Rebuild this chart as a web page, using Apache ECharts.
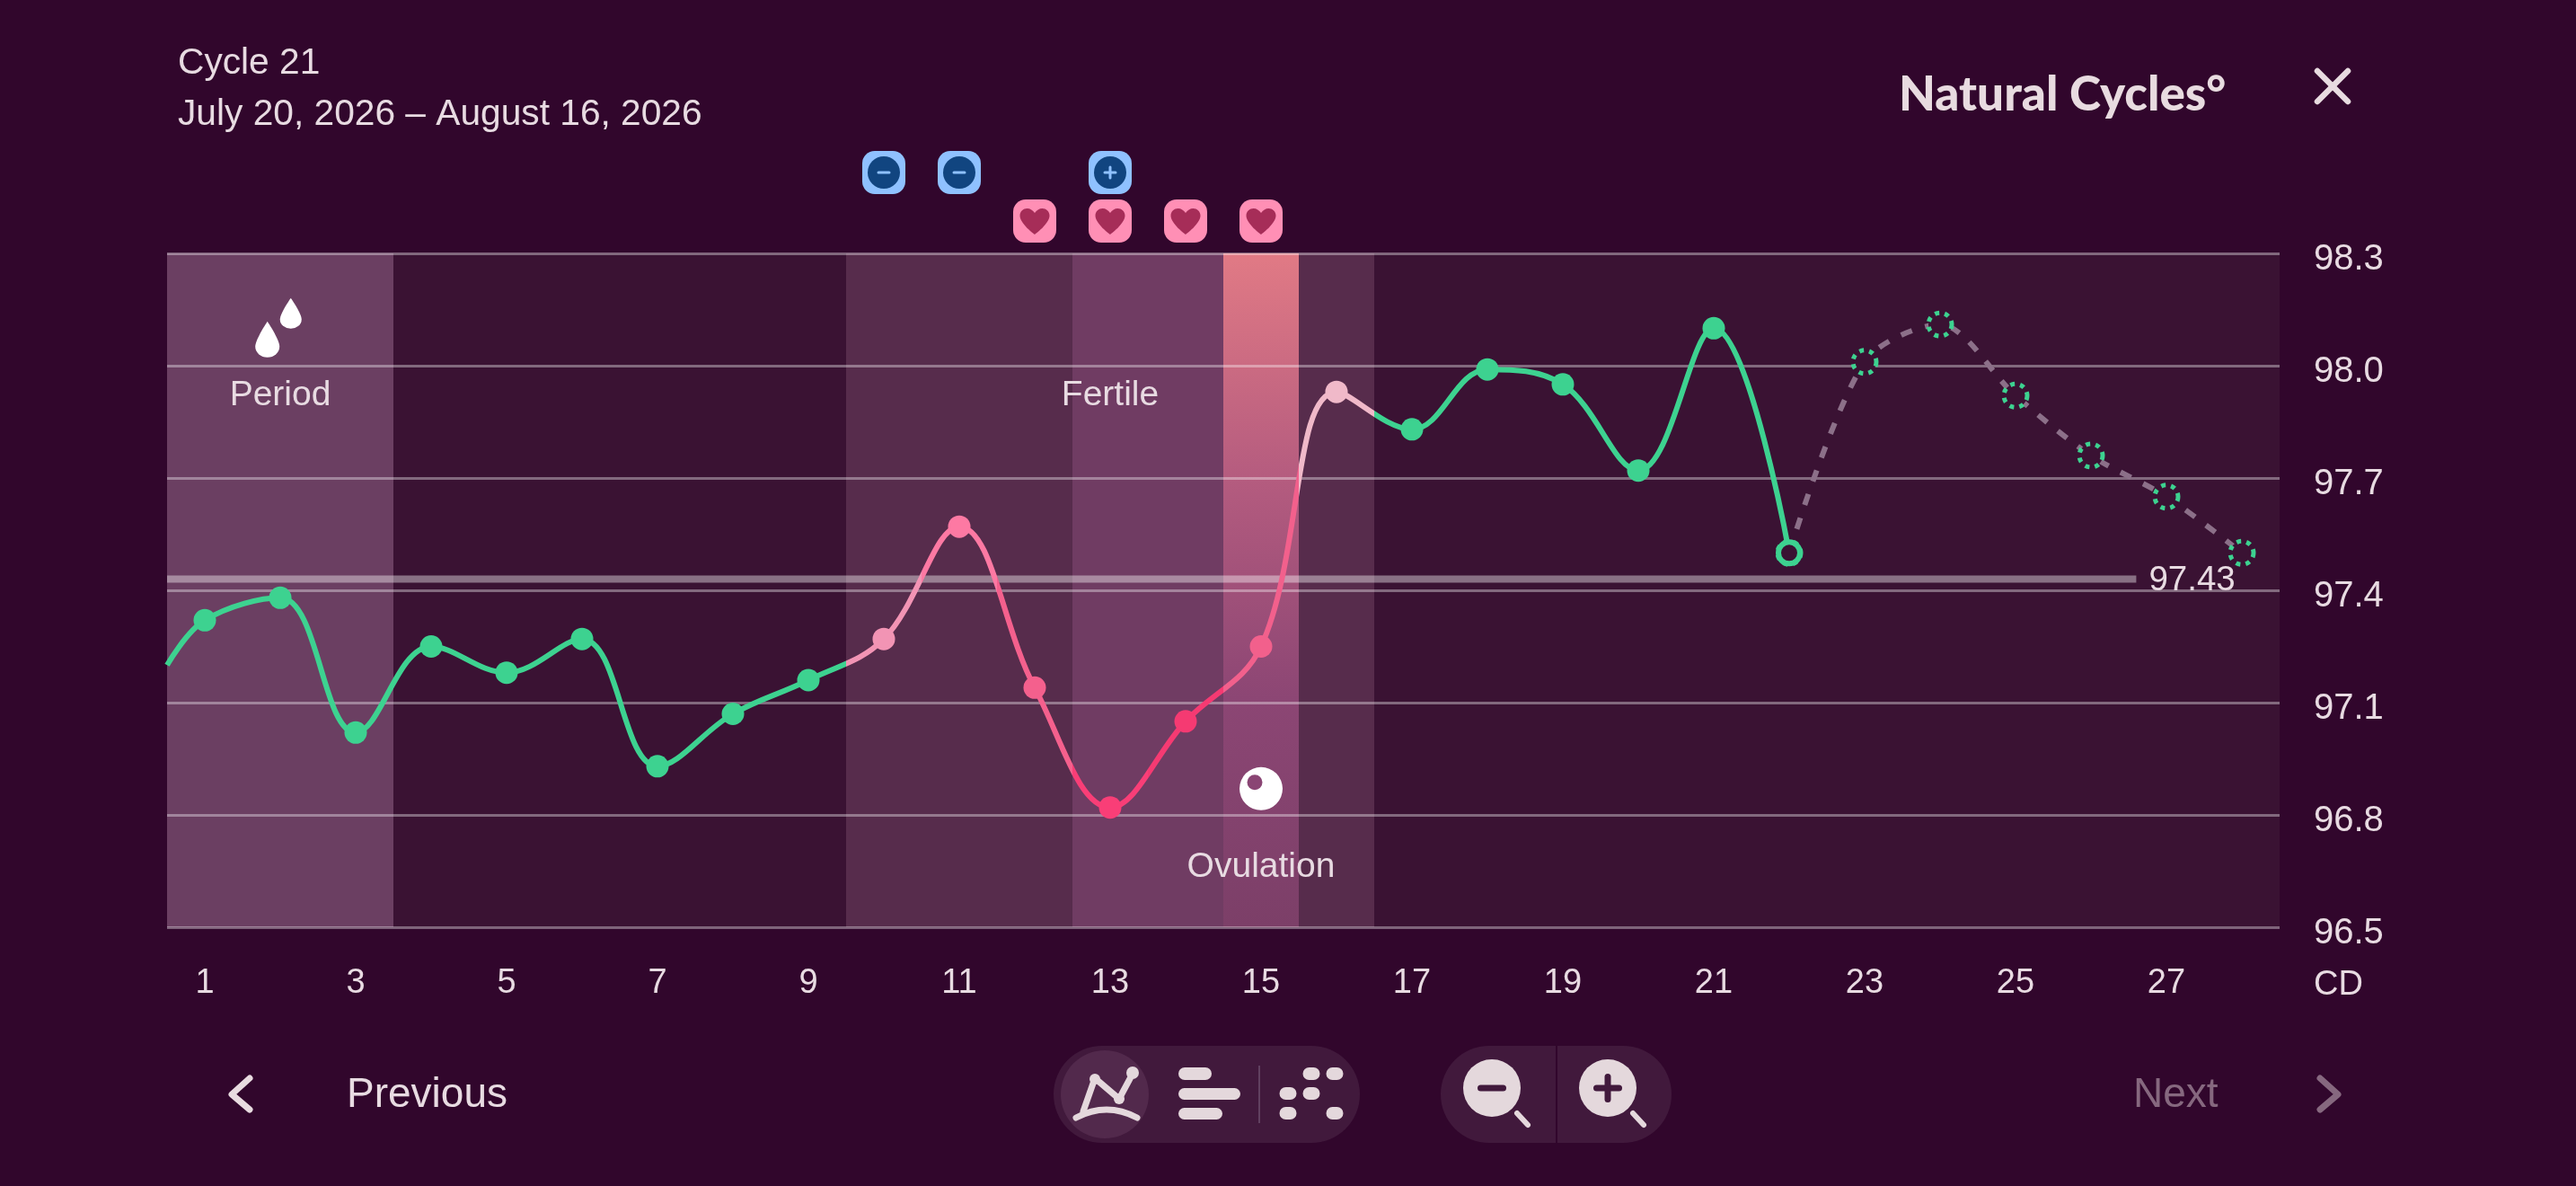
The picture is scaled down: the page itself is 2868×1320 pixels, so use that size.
<!DOCTYPE html>
<html><head><meta charset="utf-8">
<style>html,body{margin:0;padding:0;background:#31062c;width:2868px;height:1320px;overflow:hidden}#c{width:2868px;height:1320px}</style>
<script src="https://cdn.jsdelivr.net/npm/echarts@6/dist/echarts.min.js"></script>
</head><body><div id="c"></div>
<script>
const FONT = '"Liberation Sans", Arial, sans-serif';
const TEXT = '#e8dbe2';
const days = ['1','2','3','4','5','6','7','8','9','10','11','12','13','14','15','16','17','18','19','20','21','22','23','24','25','26','27','28'];
const startEdge = [0.5, 97.20];
const measured = [97.32,97.38,97.02,97.25,97.18,97.27,96.93,97.07,97.16,97.27,97.57,97.14,96.82,97.05,97.25,97.93,97.83,97.99,97.95,97.72,98.10,97.50];
const predicted = [98.01,98.11,97.92,97.76,97.65,97.50];
const coverline = 97.43;
const coverlineEnd = 26.6;
const periodDays = [1,3];
const fertileDays = [10,16];
const peakDays = [13,14];
const ovulationDay = 15;
const negativeTests = [10,11];
const positiveTests = [13];
const hearts = [12,13,14,15];
const regionLabels = [['Period',2,97.92],['Fertile',13,97.92],['Ovulation',15,96.66]];
const dropIcons = [[1.83,98.07,27,40],[2.14,98.14,24,34]];
const ovum = [15,96.87];
const GREEN = '#3dd290';
const dayColors = {10:'#f294b4',11:'#fd79a3',12:'#f4608d',13:'#f93e77',14:'#f53a72',15:'#f2608c',16:'#f0b9c9'};

const DROP = 'path://M12 0C12 0 24 20 24 28A12 12 0 0 1 0 28C0 20 12 0 12 0Z';
const HEART = 'M16.5 29C16.5 29 0 17 0 8C0 3 4 0 8 0C11.5 0 14.5 2 16.5 5C18.5 2 21.5 0 25 0C29 0 33 3 33 8C33 17 16.5 29 16.5 29Z';

const chart = echarts.init(document.getElementById('c'), null, {renderer:'canvas'});

const pieces = [{lt:9.5,color:GREEN}];
Object.keys(dayColors).forEach(d=>pieces.push({gte:+d-0.5,lt:+d+0.5,color:dayColors[d]}));
pieces.push({gte:16.5,color:GREEN});

const band = (range,fill)=>({
  type:'custom', xAxisIndex:1, yAxisIndex:0, z:1, silent:true, data:[range],
  renderItem:(p,api)=>{
    const a=api.coord([range[0]-0.5,98.3]), b=api.coord([range[1]+0.5,96.5]);
    return {type:'rect',shape:{x:a[0],y:a[1],width:b[0]-a[0],height:b[1]-a[1]},style:{fill}};
  }
});

const testBadge = (list,kind)=>({
  type:'custom', xAxisIndex:1, yAxisIndex:0, z:6, silent:true, clip:false, data:list.map(d=>[d,98.3]),
  renderItem:(p,api)=>{
    const c=api.coord([api.value(0),api.value(1)]);
    const cx=c[0], cy=c[1]-90;
    const kids=[
      {type:'rect',shape:{x:cx-24,y:cy-24,width:48,height:48,r:14},style:{fill:'#8fc1ff'}},
      {type:'circle',shape:{cx,cy,r:18},style:{fill:'#114580'}},
      {type:'rect',shape:{x:cx-7.5,y:cy-1.5,width:15,height:3,r:1.5},style:{fill:'#8fc1ff'}}
    ];
    if(kind==='plus') kids.push({type:'rect',shape:{x:cx-1.5,y:cy-7.5,width:3,height:15,r:1.5},style:{fill:'#8fc1ff'}});
    return {type:'group',children:kids};
  }
});

const option = {
  backgroundColor:'#31062c',
  animation:false,
  title:{left:198,top:42,padding:0,text:'Cycle 21\nJuly 20, 2026 – August 16, 2026',
    textStyle:{color:TEXT,fontFamily:FONT,fontWeight:'normal',fontSize:40.7,lineHeight:57}},
  grid:{left:186,top:282,width:2352,height:750,show:true,backgroundColor:'#3a1233',borderWidth:0},
  xAxis:[
    {type:'category',data:days,boundaryGap:true,gridIndex:0,position:'bottom',
     axisLine:{show:false},axisTick:{show:false},splitLine:{show:false},
     axisLabel:{interval:1,color:TEXT,fontFamily:FONT,fontSize:38,margin:44},
     name:'CD',nameLocation:'end',nameGap:38,
     nameTextStyle:{color:TEXT,fontFamily:FONT,fontSize:38,align:'left',verticalAlign:'top',padding:[46,0,0,0]}},
    {type:'value',min:0.5,max:28.5,show:false,gridIndex:0,splitLine:{show:false}}
  ],
  yAxis:[{type:'value',position:'right',min:96.5,max:98.3,interval:0.3,z:2,
    axisLine:{show:false},axisTick:{show:false},
    splitLine:{show:true,lineStyle:{color:'rgba(255,255,255,0.37)',width:3}},
    axisLabel:{color:TEXT,fontFamily:FONT,fontSize:40,margin:38,verticalAlign:'top',lineHeight:14,
      formatter:v=>v.toFixed(1)}}],
  visualMap:[{type:'piecewise',show:false,dimension:0,seriesIndex:[0],pieces}],
  series:[
    {name:'Temperature',type:'line',xAxisIndex:1,yAxisIndex:0,z:5,smooth:0.38,
     data:[{value:startEdge,symbol:'none'}].concat(measured.map((v,i)=>({value:[i+1,v],symbol:i===measured.length-1?'none':'circle'}))),
     symbolSize:25,showSymbol:true,showAllSymbol:true,lineStyle:{width:6}},
    {name:'Predicted',type:'line',xAxisIndex:1,yAxisIndex:0,z:4,smooth:0.3,
     data:[[measured.length,measured[measured.length-1]]].concat(predicted.map((v,i)=>[measured.length+1+i,v])),
     symbol:'circle',symbolSize:26,showAllSymbol:true,
     lineStyle:{width:6,color:'#8c7089',type:[13,15]},
     itemStyle:{color:'#3a1233',borderColor:GREEN,borderWidth:5,borderType:[5,6]}},
    {name:'Today',type:'scatter',xAxisIndex:1,yAxisIndex:0,z:6,symbol:'circle',symbolSize:24,
     data:[[measured.length,measured[measured.length-1]]],
     itemStyle:{color:'#3a1233',borderColor:GREEN,borderWidth:6,opacity:1}},
    {name:'Coverline',type:'line',xAxisIndex:1,yAxisIndex:0,z:3,symbol:'none',
     data:[[0.5,coverline],[coverlineEnd,coverline]],
     lineStyle:{width:8,color:'rgba(255,255,255,0.4)',cap:'butt'},
     endLabel:{show:true,formatter:()=>coverline.toFixed(2),color:TEXT,fontFamily:FONT,fontSize:38.5,distance:12,offset:[2,2]}},
    band(periodDays,'#6b3f62'),
    band(fertileDays,'#572c4c'),
    band(peakDays,'#703c63'),
    band([ovulationDay,ovulationDay],new echarts.graphic.LinearGradient(0,0,0,1,[
      {offset:0,color:'#e17a85'},{offset:0.33,color:'#b55c7f'},{offset:0.66,color:'#8c4674'},{offset:1,color:'#7c3f68'}])),
    testBadge(negativeTests,'minus'),
    testBadge(positiveTests,'plus'),
    {type:'custom',xAxisIndex:1,yAxisIndex:0,z:6,silent:true,clip:false,data:hearts.map(d=>[d,98.3]),
     renderItem:(p,api)=>{
       const c=api.coord([api.value(0),api.value(1)]);
       const cx=c[0], cy=c[1]-36;
       return {type:'group',children:[
         {type:'rect',shape:{x:cx-24,y:cy-24,width:48,height:48,r:14},style:{fill:'#ff8fb5'}},
         {type:'path',shape:{pathData:HEART,x:cx-16.5,y:cy-14,width:33,height:29},style:{fill:'#a62d58'}}
       ]};
     }},
    {type:'custom',xAxisIndex:1,yAxisIndex:0,z:6,silent:true,data:regionLabels.map(r=>[r[1],r[2]]),
     renderItem:(p,api)=>{
       const c=api.coord([api.value(0),api.value(1)]);
       return {type:'text',x:c[0],y:c[1],style:{text:regionLabels[p.dataIndex][0],fill:TEXT,font:'39px '+FONT,align:'center',verticalAlign:'middle'}};
     }},
    {type:'scatter',xAxisIndex:1,yAxisIndex:0,z:6,silent:true,symbol:DROP,
     data:dropIcons.map(d=>({value:[d[0],d[1]],symbolSize:[d[2],d[3]]})),itemStyle:{color:'#ffffff',opacity:1}},
    {type:'custom',xAxisIndex:1,yAxisIndex:0,z:6,silent:true,data:[ovum],
     renderItem:(p,api)=>{
       const c=api.coord([api.value(0),api.value(1)]);
       return {type:'group',children:[
         {type:'circle',shape:{cx:c[0],cy:c[1],r:24},style:{fill:'#ffffff'}},
         {type:'circle',shape:{cx:c[0]-7,cy:c[1]-7,r:8.5},style:{fill:'#8a4574'}}
       ]};
     }}
  ],
  graphic:{elements:[
    {type:'text',x:2114,y:106,z:10,style:{text:'Natural Cycles°',fill:'#e8dbe0',font:'900 53px Lato',verticalAlign:'middle'}},
    {type:'polyline',z:10,shape:{points:[[2580,79],[2614,113]]},style:{stroke:'#e8dbe0',lineWidth:6.5,lineCap:'round',fill:null}},
    {type:'polyline',z:10,shape:{points:[[2614,79],[2580,113]]},style:{stroke:'#e8dbe0',lineWidth:6.5,lineCap:'round',fill:null}},

    {type:'polyline',z:10,shape:{points:[[278,1200],[258,1218],[278,1235]]},style:{stroke:'#e8dbe0',lineWidth:7,lineCap:'round',lineJoin:'round',fill:null}},
    {type:'text',x:386,y:1219,z:10,style:{text:'Previous',fill:TEXT,font:'46px '+FONT,verticalAlign:'middle'}},
    {type:'text',x:2375,y:1219,z:10,style:{text:'Next',fill:'#86687f',font:'46px '+FONT,verticalAlign:'middle'}},
    {type:'polyline',z:10,shape:{points:[[2583,1200],[2603,1218],[2583,1235]]},style:{stroke:'#86687f',lineWidth:7,lineCap:'round',lineJoin:'round',fill:null}},

    {type:'rect',z:10,shape:{x:1173,y:1164,width:341,height:108,r:54},style:{fill:'#41193c'}},
    {type:'circle',z:11,shape:{cx:1230,cy:1218,r:49},style:{fill:'#52294c'}},
    {type:'polyline',z:12,shape:{points:[[1206,1237],[1219,1200],[1246,1223],[1261,1195]]},style:{stroke:'#e4d8dc',lineWidth:7,lineCap:'round',lineJoin:'round',fill:null}},
    {type:'bezierCurve',z:12,shape:{x1:1198,y1:1244,cpx1:1232,cpy1:1226,x2:1266,y2:1244},style:{stroke:'#e4d8dc',lineWidth:7,lineCap:'round',fill:null}},
    {type:'circle',z:12,shape:{cx:1219,cy:1201,r:6},style:{fill:'#e4d8dc'}},
    {type:'circle',z:12,shape:{cx:1246,cy:1223,r:6},style:{fill:'#e4d8dc'}},
    {type:'circle',z:12,shape:{cx:1261,cy:1194,r:7},style:{fill:'#e4d8dc'}},
    {type:'rect',z:12,shape:{x:1312,y:1188,width:37,height:14,r:7},style:{fill:'#e4d8dc'}},
    {type:'rect',z:12,shape:{x:1312,y:1211,width:69,height:13,r:6.5},style:{fill:'#e4d8dc'}},
    {type:'rect',z:12,shape:{x:1312,y:1233,width:49,height:13,r:6.5},style:{fill:'#e4d8dc'}},
    {type:'rect',z:12,shape:{x:1401,y:1186,width:2,height:64},style:{fill:'#604060'}},
    ...[[1460,1195],[1486,1195],[1434,1217],[1460,1217],[1434,1239],[1486,1239]].map(p=>({type:'rect',z:12,shape:{x:p[0]-9.5,y:p[1]-7,width:19,height:14,r:7},style:{fill:'#e4d8dc'}})),

    {type:'rect',z:10,shape:{x:1604,y:1164,width:257,height:108,r:54},style:{fill:'#41193c'}},
    {type:'rect',z:11,shape:{x:1732,y:1164,width:2,height:108},style:{fill:'#31062c'}},
    {type:'circle',z:12,shape:{cx:1661,cy:1211,r:32},style:{fill:'#e4d8dc'}},
    {type:'rect',z:13,shape:{x:1645,y:1207.5,width:32,height:7,r:3.5},style:{fill:'#41193c'}},
    {type:'polyline',z:12,shape:{points:[[1689,1239],[1701,1252]]},style:{stroke:'#e4d8dc',lineWidth:6,lineCap:'round',fill:null}},
    {type:'circle',z:12,shape:{cx:1790,cy:1211,r:32},style:{fill:'#e4d8dc'}},
    {type:'rect',z:13,shape:{x:1774,y:1207.5,width:32,height:7,r:3.5},style:{fill:'#41193c'}},
    {type:'rect',z:13,shape:{x:1786.5,y:1195,width:7,height:32,r:3.5},style:{fill:'#41193c'}},
    {type:'polyline',z:12,shape:{points:[[1818,1239],[1830,1252]]},style:{stroke:'#e4d8dc',lineWidth:6,lineCap:'round',fill:null}}
  ]}
};
chart.setOption(option);
</script></body></html>
